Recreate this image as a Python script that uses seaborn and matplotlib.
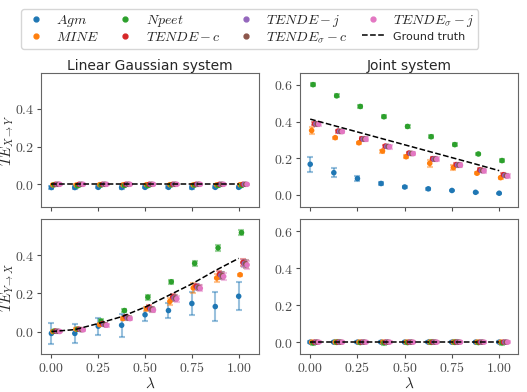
import numpy as np
import pandas as pd
import seaborn as sns
import matplotlib.pyplot as plt
from matplotlib.lines import Line2D
from matplotlib.ticker import FormatStrFormatter

lam = [0.0, 0.125, 0.25, 0.375, 0.5, 0.625, 0.75, 0.875, 1.0]
methods = ["Agm", "MINE", "Npeet", "TENDE-c", "TENDE-j", "TENDEs-c", "TENDEs-j"]
labels = [r"$Agm$", r"$MINE$", r"$Npeet$", r"$TENDE-c$", r"$TENDE-j$",
          r"$TENDE_{\sigma}-c$", r"$TENDE_{\sigma}-j$"]

# linear gaussian, X -> Y
lin_xy = {
    "Agm":      [-0.017, -0.017, -0.016, -0.017, -0.016, -0.016, -0.017, -0.016, -0.016],
    "MINE":     [-0.003, -0.004, -0.002, -0.003, -0.002, -0.002, -0.003, -0.003, -0.002],
    "Npeet":    [-0.002, -0.008, -0.004, -0.006, -0.007, -0.003, -0.004, -0.006, -0.006],
    "TENDE-c":  [0.0, 0.0, 0.0, 0.0, 0.0, 0.0, 0.0, 0.0, 0.0],
    "TENDE-j":  [0.0, 0.0, 0.0, 0.0, 0.0, 0.0, 0.0, 0.0, 0.0],
    "TENDEs-c": [0.0, 0.0, 0.0, 0.0, 0.0, 0.0, 0.0, 0.0, 0.0],
    "TENDEs-j": [0.0, 0.0, 0.0, 0.0, 0.0, 0.0, 0.0, 0.0, 0.0],
}
lin_xy_err = {
    "Agm":      [0.006] * 9,
    "MINE":     [0.004] * 9,
    "Npeet":    [0.006] * 9,
    "TENDE-c":  [0.003] * 9,
    "TENDE-j":  [0.003] * 9,
    "TENDEs-c": [0.003] * 9,
    "TENDEs-j": [0.003] * 9,
}
lin_xy_true = [0.0, 0.0, 0.0, 0.0, 0.0, 0.0, 0.0, 0.0, 0.0]

# linear gaussian, Y -> X
lin_yx = {
    "Agm":      [-0.010, -0.010, 0.028, 0.033, 0.088, 0.110, 0.147, 0.131, 0.185],
    "MINE":     [0.000, 0.012, 0.036, 0.068, 0.120, 0.158, 0.229, 0.281, 0.298],
    "Npeet":    [0.002, 0.012, 0.054, 0.110, 0.180, 0.261, 0.358, 0.439, 0.519],
    "TENDE-c":  [0.002, 0.012, 0.042, 0.077, 0.125, 0.181, 0.237, 0.301, 0.362],
    "TENDE-j":  [0.001, 0.010, 0.037, 0.072, 0.119, 0.176, 0.232, 0.295, 0.357],
    "TENDEs-c": [0.001, 0.010, 0.036, 0.071, 0.117, 0.175, 0.231, 0.294, 0.356],
    "TENDEs-j": [0.000, 0.009, 0.033, 0.068, 0.113, 0.172, 0.227, 0.289, 0.350],
}
lin_yx_err = {
    "Agm":      [0.055, 0.050, 0.045, 0.060, 0.035, 0.040, 0.062, 0.078, 0.073],
    "MINE":     [0.005, 0.005, 0.008, 0.010, 0.010, 0.020, 0.025, 0.020, 0.005],
    "Npeet":    [0.008, 0.008, 0.012, 0.010, 0.012, 0.012, 0.012, 0.015, 0.012],
    "TENDE-c":  [0.005, 0.005, 0.008, 0.010, 0.012, 0.015, 0.015, 0.018, 0.020],
    "TENDE-j":  [0.005, 0.005, 0.008, 0.010, 0.012, 0.015, 0.015, 0.018, 0.020],
    "TENDEs-c": [0.005, 0.005, 0.008, 0.010, 0.012, 0.015, 0.015, 0.018, 0.020],
    "TENDEs-j": [0.005, 0.005, 0.008, 0.010, 0.012, 0.015, 0.015, 0.018, 0.020],
}
lin_yx_true = [0.0, 0.010, 0.042, 0.078, 0.128, 0.189, 0.250, 0.320, 0.384]

# joint system, X -> Y
joint_xy = {
    "Agm":      [0.167, 0.121, 0.089, 0.062, 0.043, 0.033, 0.024, 0.014, 0.009],
    "MINE":     [0.351, 0.312, 0.284, 0.239, 0.208, 0.172, 0.149, 0.118, 0.094],
    "Npeet":    [0.601, 0.540, 0.482, 0.426, 0.373, 0.317, 0.274, 0.223, 0.187],
    "TENDE-c":  [0.388, 0.348, 0.306, 0.266, 0.228, 0.197, 0.165, 0.136, 0.110],
    "TENDE-j":  [0.387, 0.346, 0.304, 0.264, 0.226, 0.195, 0.163, 0.133, 0.106],
    "TENDEs-c": [0.387, 0.346, 0.304, 0.264, 0.226, 0.195, 0.163, 0.133, 0.105],
    "TENDEs-j": [0.386, 0.345, 0.303, 0.262, 0.225, 0.194, 0.162, 0.131, 0.103],
}
joint_xy_err = {
    "Agm":      [0.040, 0.025, 0.012, 0.008, 0.005, 0.004, 0.003, 0.003, 0.003],
    "MINE":     [0.020, 0.006, 0.006, 0.008, 0.008, 0.020, 0.012, 0.005, 0.005],
    "Npeet":    [0.008] * 9,
    "TENDE-c":  [0.008] * 9,
    "TENDE-j":  [0.010] * 9,
    "TENDEs-c": [0.010] * 9,
    "TENDEs-j": [0.010] * 9,
}
joint_xy_true = [0.413, 0.378, 0.343, 0.308, 0.273, 0.238, 0.203, 0.168, 0.132]

# joint system, Y -> X
joint_yx = {
    "Agm":      [0.0] * 9,
    "MINE":     [0.0] * 9,
    "Npeet":    [-0.004, -0.001, -0.002, -0.003, -0.002, -0.001, -0.001, -0.002, -0.003],
    "TENDE-c":  [0.0] * 9,
    "TENDE-j":  [0.0] * 9,
    "TENDEs-c": [0.0] * 9,
    "TENDEs-j": [0.0] * 9,
}
joint_yx_err = {
    "Agm":      [0.004] * 9,
    "MINE":     [0.004] * 9,
    "Npeet":    [0.010] * 9,
    "TENDE-c":  [0.004] * 9,
    "TENDE-j":  [0.004] * 9,
    "TENDEs-c": [0.004] * 9,
    "TENDEs-j": [0.004] * 9,
}
joint_yx_true = [0.0] * 9

sns.set_style("ticks")
plt.rcParams["mathtext.fontset"] = "cm"
plt.rcParams["font.family"] = ["DejaVu Sans"]
colors = sns.color_palette("tab10", 7)
offsets = [0.0, 0.0075, 0.015, 0.0225, 0.03, 0.0375, 0.045]

fig = plt.figure(figsize=(5.27, 3.92), dpi=100)
ax_tl = fig.add_axes([0.078, 0.472, 0.414, 0.342])
ax_tr = fig.add_axes([0.570, 0.472, 0.412, 0.342])
ax_bl = fig.add_axes([0.078, 0.096, 0.414, 0.345])
ax_br = fig.add_axes([0.570, 0.096, 0.412, 0.345])

panels = [
    (ax_tl, lin_xy, lin_xy_err, lin_xy_true),
    (ax_bl, lin_yx, lin_yx_err, lin_yx_true),
    (ax_tr, joint_xy, joint_xy_err, joint_xy_true),
    (ax_br, joint_yx, joint_yx_err, joint_yx_true),
]

for ax, vals, errs, truth in panels:
    rows = []
    for i, m in enumerate(methods):
        for j, l in enumerate(lam):
            rows.append({"x": l + offsets[i], "TE": vals[m][j], "err": errs[m][j], "method": m})
    df = pd.DataFrame(rows)
    for i, m in enumerate(methods):
        d = df[df["method"] == m]
        ax.errorbar(d["x"], d["TE"], yerr=d["err"], fmt="none", ecolor=colors[i],
                    alpha=0.45, capsize=2.5, capthick=1.5, elinewidth=1.5, zorder=2)
    sns.scatterplot(data=df, x="x", y="TE", hue="method", palette=colors,
                    hue_order=methods, s=16, edgecolor="none", legend=False, ax=ax, zorder=3)
    sns.lineplot(x=lam, y=truth, ax=ax, color="black", linestyle="--", linewidth=1.1, zorder=4)
    ax.set_xticks([0.0, 0.25, 0.5, 0.75, 1.0])
    ax.xaxis.set_major_formatter(FormatStrFormatter("$%.2f$"))
    ax.yaxis.set_major_formatter(FormatStrFormatter("$%.1f$"))
    ax.tick_params(labelsize=10, colors=".3", pad=2, length=3)
    for s in ax.spines.values():
        s.set_color(".4")
    ax.set_xlabel("")
    ax.set_ylabel("")

for ax in [ax_tl, ax_bl]:
    ax.set_xlim(-0.055, 1.11)
    ax.set_ylim(-0.12, 0.59)
    ax.set_yticks([0.0, 0.2, 0.4])
for ax in [ax_tr, ax_br]:
    ax.set_xlim(-0.052, 1.097)
    ax.set_ylim(-0.066, 0.665)
    ax.set_yticks([0.0, 0.2, 0.4, 0.6])
for ax in [ax_tl, ax_tr]:
    ax.tick_params(labelbottom=False)

ax_tl.set_ylabel(r"$TE_{X\rightarrow Y}$", fontsize=10.5, labelpad=-1)
ax_bl.set_ylabel(r"$TE_{Y\rightarrow X}$", fontsize=10.5, labelpad=-1)
ax_bl.set_xlabel(r"$\lambda$", fontsize=11, labelpad=0)
ax_br.set_xlabel(r"$\lambda$", fontsize=11, labelpad=0)
ax_tl.set_title("Linear Gaussian system", fontsize=10, pad=2)
ax_tr.set_title("Joint system", fontsize=10, pad=2)

handles = [Line2D([], [], marker="o", linestyle="none", color=colors[i], markersize=3.5)
           for i in range(7)]
handles.append(Line2D([], [], color="black", linestyle="--", linewidth=1.1))
leg = fig.legend(handles, labels + ["Ground truth"], ncol=4, loc="upper left",
                 bbox_to_anchor=(0.04, 0.977), borderaxespad=0, fontsize=10, frameon=True,
                 handlelength=1.6, handletextpad=0.65, columnspacing=1.05,
                 labelspacing=0.05, borderpad=0.3)
leg.get_texts()[-1].set_fontsize(8)

plt.savefig("out.png", dpi=100)
